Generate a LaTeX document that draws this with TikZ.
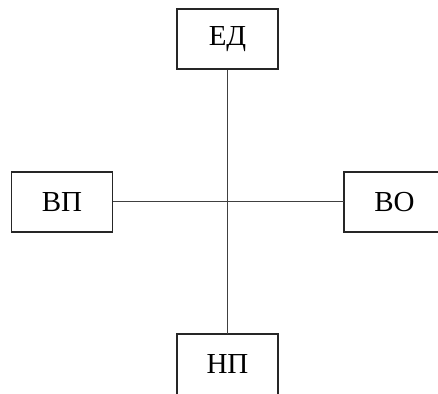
\documentclass[tikz,border=0pt]{standalone}
\usepackage{fontspec}
\setmainfont{Liberation Serif}
\tikzset{
	unit/.style={minimum width=101pt, minimum height=60pt, inner sep=0pt, font=\fontsize{29}{34}\selectfont},
	frame/.style={draw=black!85, line width=1.8pt},
	link/.style={draw=black!75, line width=1pt}
}
\begin{document}
\begin{tikzpicture}[x=1pt, y=1pt]
		\useasboundingbox (0,0) rectangle (438,393);
		\node[unit, frame] (ed) at (227.5,354) {ЕД};
		\node[unit, frame] (vp) at (62,191) {ВП};
		\node[unit] (vo) at (394.5,191) {ВО};
		\node[unit] (np) at (227.5,29) {НП};
		% boxes cut by the page edge
		\draw[frame] ([xshift=20pt]vo.north east) -- (vo.north west) -- (vo.south west) -- ([xshift=20pt]vo.south east);
		\draw[frame] ([yshift=-20pt]np.south west) -- (np.north west) -- (np.north east) -- ([yshift=-20pt]np.south east);
		\draw[link] (ed.south) -- (np.north);
		\draw[link] (vp.east) -- (vo.west);
	\end{tikzpicture}
\end{document}
